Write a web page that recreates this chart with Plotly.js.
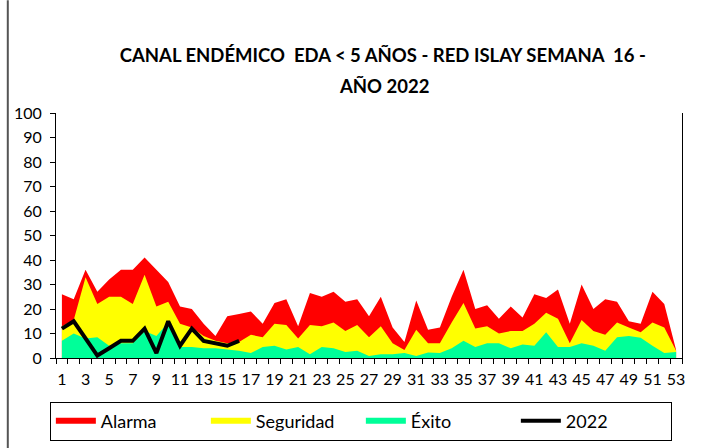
<!DOCTYPE html>
<html>
<head>
<meta charset="utf-8">
<script src="https://cdn.plot.ly/plotly-3.0.1.min.js"></script>
<style>
  body { margin: 0; background: #fff; }
  #grafico { width: 701px; height: 448px; }
</style>
</head>
<body>
<div id="grafico"></div>
<script>
// Semanas epidemiológicas
const semanas = [1, 2, 3, 4, 5, 6, 7, 8, 9, 10, 11, 12, 13, 14, 15, 16, 17, 18, 19, 20,
    21, 22, 23, 24, 25, 26, 27, 28, 29, 30, 31, 32, 33, 34, 35, 36, 37, 38, 39, 40,
    41, 42, 43, 44, 45, 46, 47, 48, 49, 50, 51, 52, 53];

// Límites del canal endémico (valores acumulados)
const alarma = [26, 24, 36, 27, 32, 36, 36, 41, 36, 31, 21, 20, 14, 9, 17, 18, 19, 14, 22.5, 24,
    13, 26.5, 25, 27, 23, 24, 17, 25, 12.5, 6.5, 23.5, 11.5, 12.5, 25, 36, 20, 21.5, 16, 21, 16.5,
    26, 24.5, 28, 14, 30, 20, 24, 23, 15, 14, 27, 22, 3.3];
const seguridad = [13, 15.5, 33, 22, 25, 25, 22, 34, 21, 23, 14, 12.5, 9, 7, 6, 6.5, 9.5, 8.5, 14, 13.5,
    8, 13.5, 13, 14.5, 11, 13.5, 8.5, 13, 6, 3.3, 11.5, 6, 6, 14.5, 22.5, 12, 13, 10, 11, 11,
    14, 18.5, 16, 6, 15.5, 11, 9.5, 14.5, 12.5, 10.5, 14.5, 12.5, 3];
const exito = [7, 10, 8, 8.5, 5, 6, 6, 11, 9, 14.5, 4.5, 4.5, 4, 4, 3.5, 3, 2, 4.5, 5, 3.5,
    4.5, 1.5, 4.5, 4, 2.5, 3, 0.8, 1.5, 1.5, 2, 0.8, 2.2, 2, 4, 7, 4.5, 6, 6, 4, 5.5,
    5, 10.5, 4.5, 4.5, 6, 5, 3, 8.5, 9, 8.3, 5, 2, 2.5];

// Casos 2022 hasta la semana 16
const semanas2022 = [1, 2, 3, 4, 5, 6, 7, 8, 9, 10, 11, 12, 13, 14, 15, 16];
const casos2022 = [12, 15, 8, 1, 4, 7, 7, 12, 2, 15, 5, 12, 7, 6, 5, 7];

// Etiquetas del eje x (semanas impares)
const etiquetasX = [1, 3, 5, 7, 9, 11, 13, 15, 17, 19, 21, 23, 25, 27, 29, 31, 33, 35, 37,
    39, 41, 43, 45, 47, 49, 51, 53];

const fuente = 'Lato, "Open Sans", sans-serif';

const data = [
    { x: semanas, y: alarma, name: 'Alarma', type: 'scatter', mode: 'none',
      fill: 'tozeroy', fillcolor: '#FF0000' },
    { x: semanas, y: seguridad, name: 'Seguridad', type: 'scatter', mode: 'none',
      fill: 'tozeroy', fillcolor: '#FFFF00' },
    { x: semanas, y: exito, name: 'Éxito', type: 'scatter', mode: 'none',
      fill: 'tozeroy', fillcolor: '#00FF99' },
    { x: semanas2022, y: casos2022, name: '2022', type: 'scatter', mode: 'lines',
      line: { color: '#000000', width: 4 } }
];

const layout = {
    width: 701,
    height: 448,
    margin: { l: 56, r: 19, t: 113, b: 90, autoexpand: false },
    paper_bgcolor: '#ffffff',
    plot_bgcolor: '#ffffff',
    font: { family: fuente, color: '#000000' },
    title: {
        text: 'CANAL ENDÉMICO  EDA &lt; 5 AÑOS - RED ISLAY SEMANA  16 -',
        font: { family: fuente, size: 18.5, weight: 'bold', color: '#000000' },
        x: 0.546,
        xanchor: 'center',
        y: 0.875,
        yanchor: 'middle'
    },
    annotations: [
        // segunda línea del título
        { text: 'AÑO 2022', xref: 'paper', yref: 'paper', x: 0.524, y: 1.112,
          xanchor: 'center', yanchor: 'middle', showarrow: false,
          font: { family: fuente, size: 18.5, weight: 'bold', color: '#000000' } }
    ],
    xaxis: {
        range: [0.5, 53.5],
        tickmode: 'array',
        tickvals: etiquetasX,
        ticks: '',
        ticklabelstandoff: 7,
        showgrid: false,
        zeroline: false,
        showline: true,
        linecolor: '#000000',
        linewidth: 1,
        tickfont: { family: fuente, size: 16 },
        minor: { tick0: 0.5, dtick: 1, ticks: 'outside', ticklen: 5, tickcolor: '#000000', showgrid: false }
    },
    yaxis: {
        range: [0, 100],
        dtick: 10,
        ticks: 'outside',
        ticklen: 5,
        tickcolor: '#000000',
        ticklabelstandoff: 5,
        showgrid: false,
        zeroline: false,
        showline: true,
        mirror: true,
        linecolor: '#000000',
        linewidth: 1,
        tickfont: { family: fuente, size: 16 }
    },
    showlegend: true,
    legend: {
        orientation: 'h',
        x: 0.487,
        xanchor: 'center',
        y: -0.178,
        yanchor: 'top',
        bordercolor: '#000000',
        borderwidth: 1,
        font: { family: fuente, size: 18 },
        itemwidth: 40,
        entrywidth: 100,
        traceorder: 'normal'
    },
    shapes: [
        // borde izquierdo del gráfico
        { type: 'line', xref: 'paper', yref: 'paper', x0: -0.077, x1: -0.077, y0: -0.37, y1: 1.46,
          line: { color: '#555555', width: 2 } }
    ]
};

Plotly.newPlot('grafico', data, layout, { displayModeBar: false, staticPlot: true });
</script>
</body>
</html>
